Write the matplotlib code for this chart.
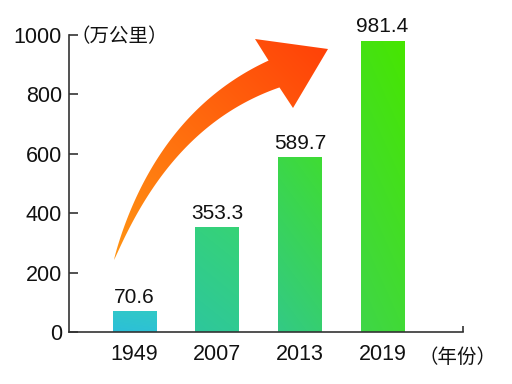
import matplotlib
matplotlib.use("Agg")
import matplotlib.pyplot as plt
import numpy as np
from matplotlib.colors import to_rgb
from matplotlib.patches import Polygon

plt.rcParams['font.family'] = ['Liberation Sans', 'Noto Sans CJK SC', 'DejaVu Sans']

# data
years = ["1949", "2007", "2013", "2019"]
length = [70.6, 353.3, 589.7, 981.4]
y_ticks = [0, 200, 400, 600, 800, 1000]
y_unit = "（万公里）"
x_unit = "（年份）"

# per-bar gradient (bottom, top)
bar_colors = [("#2cbfd9", "#31c9c6"),
              ("#2ec79c", "#36d376"),
              ("#33ca85", "#3fdc33"),
              ("#3fd648", "#47e600")]

fig = plt.figure(figsize=(5.12, 3.84), dpi=100)
ax = fig.add_axes([69 / 512, 1 - 332 / 384, 394 / 512, 297 / 384])

x = np.arange(len(years))
bars = ax.bar(x, length, width=0.53, color="none", edgecolor="none", zorder=2)


def fill_gradient(rect, c0, c1):
    x0, y0 = rect.get_x(), rect.get_y()
    w, h = rect.get_width(), rect.get_height()
    u, v = np.meshgrid(np.linspace(0, 1, 40), np.linspace(0, 1, 80))
    f = (0.75 * v + 0.25 * u)[..., None]
    a, b = np.array(to_rgb(c0)), np.array(to_rgb(c1))
    img = a + (b - a) * f
    im = ax.imshow(img, extent=(x0, x0 + w, y0, y0 + h), origin="lower",
                   aspect="auto", zorder=2, interpolation="bilinear")
    im.set_clip_path(rect)


for rect, (c0, c1) in zip(bars, bar_colors):
    fill_gradient(rect, c0, c1)

for xi, v in zip(x, length):
    ax.annotate(f"{v}", (xi, v), xytext=(0, 3), textcoords="offset points",
                ha="center", va="bottom", fontsize=15, color="#111111")

ax.set_xlim(-0.792, 3.974)
ax.set_ylim(0, 1000)
ax.set_yticks(y_ticks)
ax.set_xticks(x)
ax.set_xticklabels(years)
ax.set_xticks([3.974], minor=True)

for s in ["top", "right"]:
    ax.spines[s].set_visible(False)
for s in ["left", "bottom"]:
    ax.spines[s].set_color("#333333")
    ax.spines[s].set_linewidth(1.2)

ax.tick_params(axis="y", direction="in", length=6.5, width=1.2, color="#333333",
               labelsize=15.5, pad=5, labelcolor="#111111")
ax.tick_params(axis="x", which="major", length=0, labelsize=15.5, pad=9,
               labelcolor="#111111")
ax.tick_params(axis="x", which="minor", direction="in", length=4.5, width=1.2,
               color="#333333")

fig.text(71 / 512, 1 - 37 / 384, y_unit, ha="left", va="center",
         fontsize=14, color="#111111", family=["Noto Sans CJK SC"])
fig.text(418 / 512, 1 - 357 / 384, x_unit, ha="left", va="center",
         fontsize=14, color="#111111", family=["Noto Sans CJK SC"])

# decorative curved arrow, drawn in pixel coordinates on an overlay
ov = fig.add_axes([0, 0, 1, 1], zorder=3)
ov.set_axis_off()

P0 = np.array([114.0, 260.0])
C = np.array([163.0, 119.0])
P3 = np.array([274.0, 74.0])
t = np.linspace(0, 1, 120)[:, None]
pts = (1 - t) ** 2 * P0 + 2 * t * (1 - t) * C + t ** 2 * P3
tan = 2 * (1 - t) * (C - P0) + 2 * t * (P3 - C)
tan /= np.linalg.norm(tan, axis=1, keepdims=True)
nrm = np.column_stack([-tan[:, 1], tan[:, 0]])
hw = 14.5 * t[:, 0] ** 0.8
side_a = pts + nrm * hw[:, None]
side_b = pts - nrm * hw[:, None]
head = np.array([[293.0, 108.0], [328.0, 49.0], [255.0, 39.0]])
outline = np.vstack([side_a, head, side_b[::-1]])
arrow = Polygon(outline, closed=True, facecolor="none", edgecolor="none")
ov.add_patch(arrow)

xx = np.linspace(105, 335, 120)
yy = np.linspace(30, 268, 120)
XX, YY = np.meshgrid(xx, yy)
d = np.array([328.0, 49.0]) - P0
s = ((XX - P0[0]) * d[0] + (YY - P0[1]) * d[1]) / (d @ d)
s = np.clip(s, 0, 1)[..., None]
ca, cb = np.array(to_rgb("#ff9414")), np.array(to_rgb("#ff4208"))
grad = ca + (cb - ca) * s
im = ov.imshow(grad, extent=(105, 335, 268, 30), origin="upper",
               aspect="auto", interpolation="bilinear")
im.set_clip_path(arrow)
ov.set_xlim(0, 512)
ov.set_ylim(384, 0)

fig.savefig("out.png", dpi=100)
